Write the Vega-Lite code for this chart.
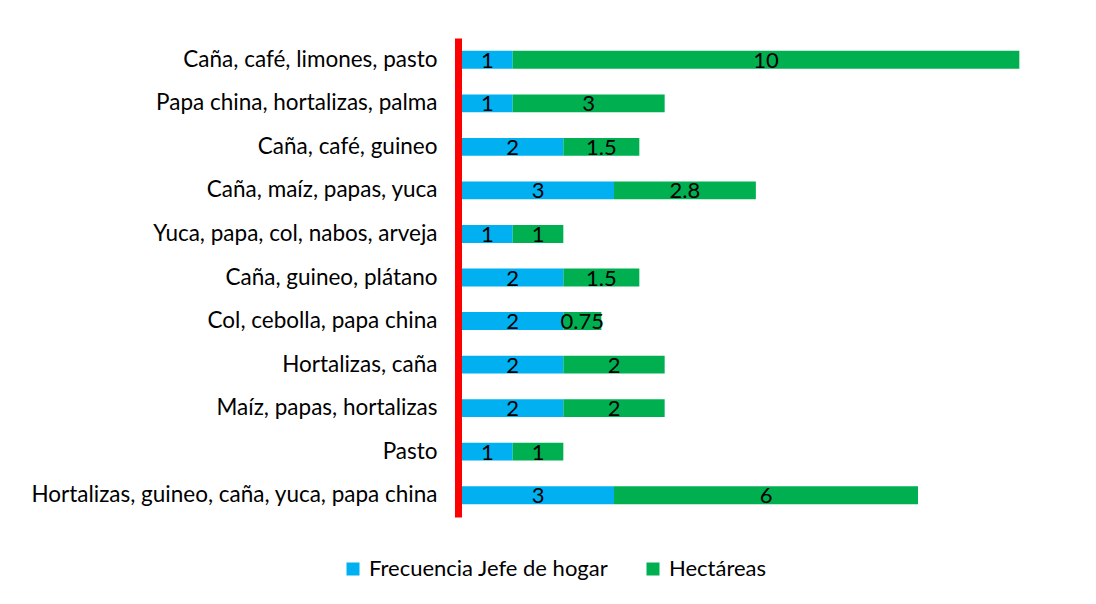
{
  "$schema": "https://vega.github.io/schema/vega-lite/v6.json",
  "autosize": {"type": "none"},
  "width": 608,
  "height": 479,
  "padding": {"left": 462, "top": 38, "right": 26, "bottom": 87},
  "background": "white",
  "config": {"view": {"stroke": null}, "font": "Lato"},
  "data": {
    "values": [
      {"cultivo": "Caña, café, limones, pasto", "serie": "Frecuencia Jefe de hogar", "valor": 1},
      {"cultivo": "Caña, café, limones, pasto", "serie": "Hectáreas", "valor": 10},
      {"cultivo": "Papa china, hortalizas, palma", "serie": "Frecuencia Jefe de hogar", "valor": 1},
      {"cultivo": "Papa china, hortalizas, palma", "serie": "Hectáreas", "valor": 3},
      {"cultivo": "Caña, café, guineo", "serie": "Frecuencia Jefe de hogar", "valor": 2},
      {"cultivo": "Caña, café, guineo", "serie": "Hectáreas", "valor": 1.5},
      {"cultivo": "Caña, maíz, papas, yuca", "serie": "Frecuencia Jefe de hogar", "valor": 3},
      {"cultivo": "Caña, maíz, papas, yuca", "serie": "Hectáreas", "valor": 2.8},
      {"cultivo": "Yuca, papa, col, nabos, arveja", "serie": "Frecuencia Jefe de hogar", "valor": 1},
      {"cultivo": "Yuca, papa, col, nabos, arveja", "serie": "Hectáreas", "valor": 1},
      {"cultivo": "Caña, guineo, plátano ", "serie": "Frecuencia Jefe de hogar", "valor": 2},
      {"cultivo": "Caña, guineo, plátano ", "serie": "Hectáreas", "valor": 1.5},
      {"cultivo": "Col, cebolla, papa china", "serie": "Frecuencia Jefe de hogar", "valor": 2},
      {"cultivo": "Col, cebolla, papa china", "serie": "Hectáreas", "valor": 0.75},
      {"cultivo": "Hortalizas, caña", "serie": "Frecuencia Jefe de hogar", "valor": 2},
      {"cultivo": "Hortalizas, caña", "serie": "Hectáreas", "valor": 2},
      {"cultivo": "Maíz, papas, hortalizas", "serie": "Frecuencia Jefe de hogar", "valor": 2},
      {"cultivo": "Maíz, papas, hortalizas", "serie": "Hectáreas", "valor": 2},
      {"cultivo": "Pasto", "serie": "Frecuencia Jefe de hogar", "valor": 1},
      {"cultivo": "Pasto", "serie": "Hectáreas", "valor": 1},
      {"cultivo": "Hortalizas, guineo, caña, yuca, papa china ", "serie": "Frecuencia Jefe de hogar", "valor": 3},
      {"cultivo": "Hortalizas, guineo, caña, yuca, papa china ", "serie": "Hectáreas", "valor": 6}
    ]
  },
  "encoding": {
    "y": {
      "field": "cultivo",
      "type": "nominal",
      "sort": null,
      "title": null,
      "scale": {"paddingInner": 0.59, "paddingOuter": 0.295},
      "axis": {
        "offset": 4,
        "domainColor": "#FF0000",
        "domainWidth": 7,
        "ticks": false,
        "tickSize": 0,
        "labelPadding": 21,
        "labelFont": "Lato",
        "labelFontSize": 22.5,
        "labelColor": "#000000",
        "labelLimit": 600
      }
    },
    "order": {"field": "serie", "type": "nominal", "sort": "ascending"}
  },
  "layer": [
    {
      "mark": {"type": "bar"},
      "encoding": {
        "x": {
          "field": "valor",
          "type": "quantitative",
          "stack": "zero",
          "scale": {"domain": [0, 12], "nice": false},
          "axis": null
        },
        "color": {
          "field": "serie",
          "type": "nominal",
          "scale": {"domain": ["Frecuencia Jefe de hogar", "Hectáreas"], "range": ["#00B0F0", "#00B050"]},
          "legend": {
            "title": null,
            "orient": "none",
            "direction": "horizontal",
            "legendX": -120,
            "legendY": 520,
            "symbolType": "square",
            "symbolSize": 169,
            "symbolStrokeWidth": 0,
            "symbolOpacity": 1,
            "labelFont": "Lato",
            "labelFontSize": 22,
            "labelColor": "#000000",
            "labelOffset": 5,
            "columnPadding": 33,
            "labelLimit": 400
          }
        }
      }
    },
    {
      "mark": {"type": "text", "fontSize": 22, "font": "Lato", "color": "#000000", "baseline": "middle", "align": "center", "dy": 1},
      "encoding": {
        "x": {"field": "valor", "type": "quantitative", "stack": "zero", "bandPosition": 0.5},
        "detail": {"field": "serie", "type": "nominal"},
        "text": {"field": "valor", "type": "quantitative"}
      }
    }
  ]
}
